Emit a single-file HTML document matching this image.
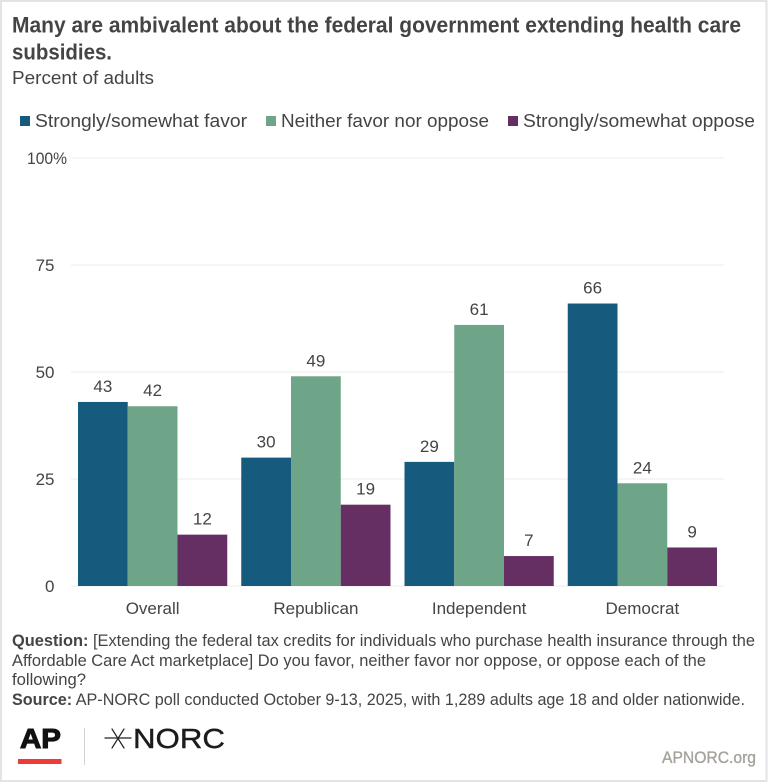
<!DOCTYPE html>
<html lang="en">
<head>
<meta charset="utf-8">
<title>Many are ambivalent about the federal government extending health care subsidies.</title>
<style>
html,body{margin:0;padding:0;background:#fff;}
svg{display:block;font-family:"Liberation Sans",Arial,sans-serif;}
</style>
</head>
<body>
<svg id="chart" xmlns="http://www.w3.org/2000/svg" width="768" height="783" viewBox="0 0 768 783">
  <rect x="1" y="1" width="765.5" height="780" fill="#fff" stroke="#e3e3e3" stroke-width="2"/>
  <g fill="#444" font-size="22.5" font-weight="700">
    <text x="12" y="32.5" textLength="729" lengthAdjust="spacingAndGlyphs">Many are ambivalent about the federal government extending health care</text>
    <text x="12" y="59.5" textLength="100" lengthAdjust="spacingAndGlyphs">subsidies.</text>
  </g>
  <text x="12" y="84" fill="#444" font-size="18.5" textLength="142" lengthAdjust="spacingAndGlyphs">Percent of adults</text>
  <g fill="#444" font-size="18.5">
    <g>
      <rect x="20" y="116" width="10" height="10" fill="#165b7d"/>
      <text x="35" y="127" textLength="212" lengthAdjust="spacingAndGlyphs">Strongly/somewhat favor</text>
    </g>
    <g>
      <rect x="266" y="116" width="10" height="10" fill="#6ea487"/>
      <text x="281" y="127" textLength="208" lengthAdjust="spacingAndGlyphs">Neither favor nor oppose</text>
    </g>
    <g>
      <rect x="508" y="116" width="10" height="10" fill="#662f64"/>
      <text x="523" y="127" textLength="232" lengthAdjust="spacingAndGlyphs">Strongly/somewhat oppose</text>
    </g>
  </g>
  <g id="grid"></g>
  <g id="yticks"></g>
  <g id="bars"></g>
  <g id="values"></g>
  <g id="xticks"></g>
  <g fill="#444" font-size="16.5">
    <text x="12" y="646" textLength="743" lengthAdjust="spacingAndGlyphs"><tspan font-weight="700">Question:</tspan> [Extending the federal tax credits for individuals who purchase health insurance through the</text>
    <text x="12" y="666" textLength="694" lengthAdjust="spacingAndGlyphs">Affordable Care Act marketplace] Do you favor, neither favor nor oppose, or oppose each of the</text>
    <text x="12" y="685" textLength="74" lengthAdjust="spacingAndGlyphs">following?</text>
    <text x="12" y="705" textLength="733" lengthAdjust="spacingAndGlyphs"><tspan font-weight="700">Source:</tspan> AP-NORC poll conducted October 9-13, 2025, with 1,289 adults age 18 and older nationwide.</text>
  </g>
  <g>
    <text x="20" y="748" font-size="28" font-weight="700" fill="#111" stroke="#111" stroke-width="1.1" textLength="41" lengthAdjust="spacingAndGlyphs">AP</text>
    <rect x="18" y="759" width="43.5" height="5" fill="#f03a35"/>
  </g>
  <rect x="84" y="728" width="1" height="37" fill="#d2d2d2"/>
  <g>
    <g stroke="#222" stroke-linecap="round">
      <line x1="105" y1="738" x2="131" y2="738" stroke-width="1.2"/>
      <line x1="112" y1="729" x2="124" y2="748" stroke-width="1.2"/>
      <line x1="124" y1="729" x2="112" y2="748" stroke-width="1.2"/>
    </g>
    <text x="133" y="748" font-size="28" fill="#1c1c1c" stroke="#1c1c1c" stroke-width=".4" textLength="92" lengthAdjust="spacingAndGlyphs">NORC</text>
  </g>
  <text x="662" y="763" font-size="17" fill="#a5a29c" stroke="#a5a29c" stroke-width=".35" textLength="94" lengthAdjust="spacingAndGlyphs">APNORC.org</text>
</svg>
<script>
const categories = ['Overall', 'Republican', 'Independent', 'Democrat'];
const favorValues = [43, 30, 29, 66];
const neitherValues = [42, 49, 61, 24];
const opposeValues = [12, 19, 7, 9];
const tickValues = [0, 25, 50, 75, 100];

const NS = 'http://www.w3.org/2000/svg';
const plot = { left: 71, right: 724, top: 158, bottom: 586, yMax: 100, padding: 7 };
const seriesList = [
  { key: 'favor', values: favorValues, color: '#165b7d' },
  { key: 'neither', values: neitherValues, color: '#6ea487' },
  { key: 'oppose', values: opposeValues, color: '#662f64' }
];
function yScale(v) {
  return plot.bottom - (v / plot.yMax) * (plot.bottom - plot.top);
}
function groupWidth() {
  return (plot.right - plot.left) / categories.length;
}
function barWidth() {
  return (groupWidth() - plot.padding * 2) / seriesList.length;
}
function xScale(groupIndex, seriesIndex) {
  return plot.left + groupIndex * groupWidth() + plot.padding + seriesIndex * barWidth();
}
function make(parentId, tag, attrs, text) {
  const el = document.createElementNS(NS, tag);
  Object.keys(attrs).forEach(function (k) { el.setAttribute(k, attrs[k]); });
  if (text !== undefined) el.textContent = text;
  document.getElementById(parentId).appendChild(el);
  return el;
}

tickValues.forEach(function (t) {
  const y = yScale(t);
  const line = make('grid', 'rect', { x: plot.left, y: y - 0.5, width: plot.right - plot.left, height: 1, fill: '#ebebeb' });
  
  
  const isTop = t === plot.yMax;
  const label = make('yticks', 'text', { x: isTop ? 67 : 54.5, y: y + 6, 'text-anchor': 'end', 'font-size': 17, fill: '#444' }, isTop ? t + '%' : String(t));
  if (isTop) {
    label.setAttribute('textLength', 40);
    label.setAttribute('lengthAdjust', 'spacingAndGlyphs');
  }
  
  
});

seriesList.forEach(function (s, si) {
  s.values.forEach(function (v, gi) {
    const x = xScale(gi, si);
    const y = yScale(v);
    const bar = make('bars', 'rect', { x: x, y: y, width: barWidth(), height: plot.bottom - y, fill: s.color });
    
    
    const val = make('values', 'text', { x: x + barWidth() / 2, y: y - 10, 'text-anchor': 'middle', 'font-size': 17, fill: '#444' }, String(v));
    
    
  });
});

categories.forEach(function (c, i) {
  const label = make('xticks', 'text', { x: plot.left + (i + 0.5) * groupWidth(), y: 614, 'text-anchor': 'middle', 'font-size': 17, fill: '#444' }, c);
  
  
});
</script>
</body>
</html>
